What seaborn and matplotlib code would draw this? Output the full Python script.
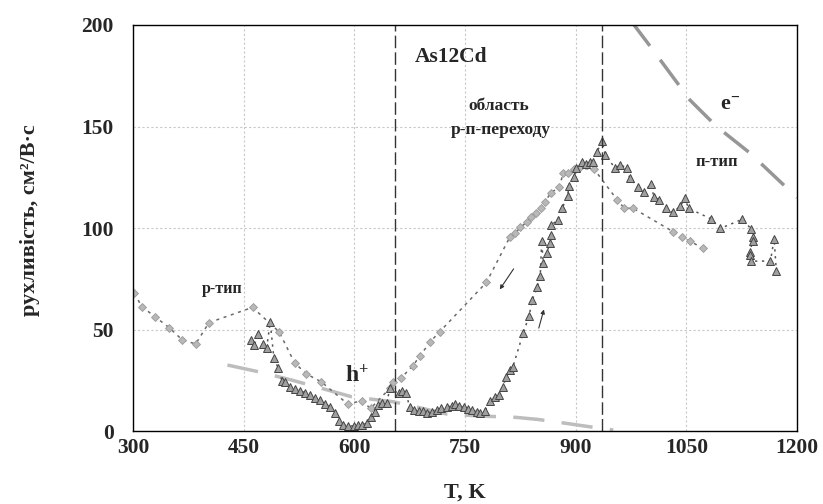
import matplotlib
matplotlib.use("Agg")
import matplotlib.pyplot as plt
import seaborn as sns
import pandas as pd

# охолодження (ромби)
t_cool = [302, 312, 330, 349, 367, 385, 403, 462, 498, 519,
          535, 555, 591, 610, 622, 648, 653, 663, 679, 689,
          703, 716, 779, 811, 818, 825, 834, 840, 846, 853,
          858, 867, 878, 883, 890, 898, 904, 925, 956, 966,
          978, 1032, 1044, 1055, 1072]
mu_cool = [67.8, 61.2, 56.3, 50.9, 44.8, 42.9, 53.4, 60.9, 48.9, 33.6,
           28.1, 24.3, 13.3, 14.9, 11.1, 21.0, 24.3, 26.0, 32.0, 37.0,
           44.0, 49.0, 73.2, 95.7, 97.4, 100.3, 103.0, 105.6, 107.5, 110.0,
           113.0, 117.4, 120.3, 127.0, 127.2, 129.0, 129.4, 129.0, 114.0, 109.7,
           109.7, 98.2, 95.8, 93.6, 90.0]

# нагрів (трикутники)
t_heat = [460, 464, 470, 476, 481, 486, 491, 497, 502, 506,
          513, 520, 526, 533, 540, 547, 553, 560, 567, 574,
          579, 585, 592, 599, 605, 610, 617, 623, 628, 632,
          637, 644, 648, 660, 665, 670, 675, 681, 687, 693,
          698, 705, 712, 718, 725, 732, 736, 742, 749, 754,
          760, 766, 771, 777, 784, 791, 796, 801, 806, 811,
          815, 829, 837, 841, 848, 852, 854, 856, 861, 865,
          866, 867, 876, 882, 889, 891, 898, 901, 909, 914,
          919, 924, 929, 936, 940, 953, 960, 970, 973, 985,
          993, 1002, 1006, 1013, 1022, 1032, 1042, 1048, 1053, 1084,
          1096, 1126, 1138, 1140, 1140, 1136, 1136, 1138, 1164, 1169, 1172]
mu_heat = [44.8, 42.4, 47.8, 42.9, 40.7, 53.5, 35.8, 30.9, 24.6, 24.3,
           21.8, 20.5, 19.9, 18.9, 17.7, 16.4, 15.3, 13.3, 12.0, 9.0,
           4.9, 3.0, 2.5, 2.5, 3.0, 3.0, 3.8, 6.7, 9.5, 12.8,
           14.0, 13.6, 21.0, 18.5, 19.7, 18.9, 11.7, 10.3, 10.0, 10.0,
           8.7, 9.5, 10.3, 11.2, 11.7, 12.5, 13.3, 12.3, 11.7, 10.7,
           10.3, 9.5, 8.7, 10.0, 14.8, 16.9, 17.7, 21.5, 26.7, 30.0,
           31.7, 48.4, 56.8, 64.5, 70.8, 76.4, 93.7, 82.6, 87.8, 92.5,
           96.6, 101.5, 104.0, 110.0, 115.8, 120.7, 125.0, 129.7, 132.7, 131.4,
           132.7, 132.4, 137.6, 142.9, 136.0, 129.7, 131.0, 129.7, 124.8, 120.0,
           117.9, 121.7, 115.4, 113.8, 109.7, 107.7, 110.8, 114.9, 109.7, 104.4,
           99.8, 104.3, 99.5, 95.7, 93.5, 88.3, 86.7, 83.7, 83.7, 94.6, 78.8]

# дірки (h+) та електрони (e-)
t_hole = [428, 470, 515, 551, 596, 653, 693, 725, 770, 820, 849, 881, 919, 951]
mu_hole = [32.5, 29.2, 25.1, 21.5, 16.9, 14.4, 11.1, 8.4, 7.4, 6.7, 5.7, 4.1, 2.1, 0.5]
t_elec = [975, 1000, 1055, 1091, 1136, 1200]
mu_elec = [202, 190, 163, 150, 137, 115]

# межі області p-n-переходу
t_bounds = [655, 936]

sns.set_style("white")
plt.rcParams["font.family"] = ["Liberation Serif", "DejaVu Serif"]
plt.rcParams["font.weight"] = "bold"
plt.rcParams["mathtext.fontset"] = "custom"
plt.rcParams["mathtext.rm"] = "Liberation Serif:bold"
plt.rcParams["mathtext.bf"] = "Liberation Serif:bold"
plt.rcParams["mathtext.it"] = "Liberation Serif:bold:italic"

fig = plt.figure(figsize=(8.23, 5.04), dpi=100)
ax = fig.add_axes([0.1616, 0.1448, 0.8068, 0.8056])

sns.lineplot(x=t_hole, y=mu_hole, ax=ax, color="#bdbdbd", linewidth=2.5,
             linestyle=(0, (9, 5)))
sns.lineplot(x=t_elec, y=mu_elec, ax=ax, color="#969696", linewidth=2.5,
             linestyle=(0, (9, 5)))

cool = pd.DataFrame({"T": t_cool, "mu": mu_cool})
heat = pd.DataFrame({"T": t_heat, "mu": mu_heat})
sns.lineplot(data=cool, x="T", y="mu", ax=ax, sort=False, estimator=None,
             color="#6a6a6a", linewidth=1.1, linestyle=(0, (2, 3)),
             marker="D", markersize=4.2, markerfacecolor="#b8b8b8",
             markeredgecolor="#9a9a9a", markeredgewidth=0.6)
sns.lineplot(data=heat, x="T", y="mu", ax=ax, sort=False, estimator=None,
             color="#555555", linewidth=1.1, linestyle=(0, (1.5, 3)),
             marker="^", markersize=5.3, markerfacecolor="#a0a0a0",
             markeredgecolor="#444444", markeredgewidth=0.7)

for tb in t_bounds:
    ax.axvline(tb, color="#333333", linewidth=1.0, linestyle=(0, (9, 3)))

ax.annotate("", xy=(795, 68.6), xytext=(818, 81),
            arrowprops=dict(arrowstyle="-|>", color="#333333", lw=0.8,
                            mutation_scale=6))
ax.annotate("", xy=(858, 61.2), xytext=(849, 49.4),
            arrowprops=dict(arrowstyle="-|>", color="#333333", lw=0.8,
                            mutation_scale=6))

ax.text(682, 184, "As12Cd", fontsize=15.5, fontweight="bold", va="center")
ax.text(795, 160, "область", fontsize=12.5, fontweight="bold", ha="center", va="center")
ax.text(799, 148.5, "р-п-переходу", fontsize=12.5, fontweight="bold", ha="center", va="center")
ax.text(393, 70, "р-тип", fontsize=11.5, fontweight="bold", va="center")
ax.text(1091, 132.5, "п-тип", fontsize=12, fontweight="bold", va="center", ha="center")
ax.text(588, 27, r"h$^{+}$", fontsize=17, fontweight="bold", va="center")
ax.text(1095, 161, r"e$^{-}$", fontsize=16, fontweight="bold", va="center")

ax.set_xlim(300, 1200)
ax.set_ylim(0, 200)
ax.set_xticks(range(300, 1201, 150))
ax.set_yticks(range(0, 201, 50))
ax.grid(True, linestyle=(0, (2, 2)), color="#c8c8c8", linewidth=0.8)
ax.tick_params(axis="both", direction="in", length=6, width=1, labelsize=15.5)
ax.tick_params(axis="x", pad=5)
ax.tick_params(axis="y", pad=14)
for lbl in ax.get_xticklabels() + ax.get_yticklabels():
    lbl.set_fontweight("bold")
for sp in ax.spines.values():
    sp.set_color("black")
    sp.set_linewidth(1.0)

ax.set_xlabel("T, K", fontsize=16, fontweight="bold")
ax.set_ylabel("рухливість, см²/В·с", fontsize=16, fontweight="bold")
ax.xaxis.set_label_coords(0.5, -0.128)
ax.yaxis.set_label_coords(-0.14, 0.52)

fig.savefig("out.png", dpi=100)
